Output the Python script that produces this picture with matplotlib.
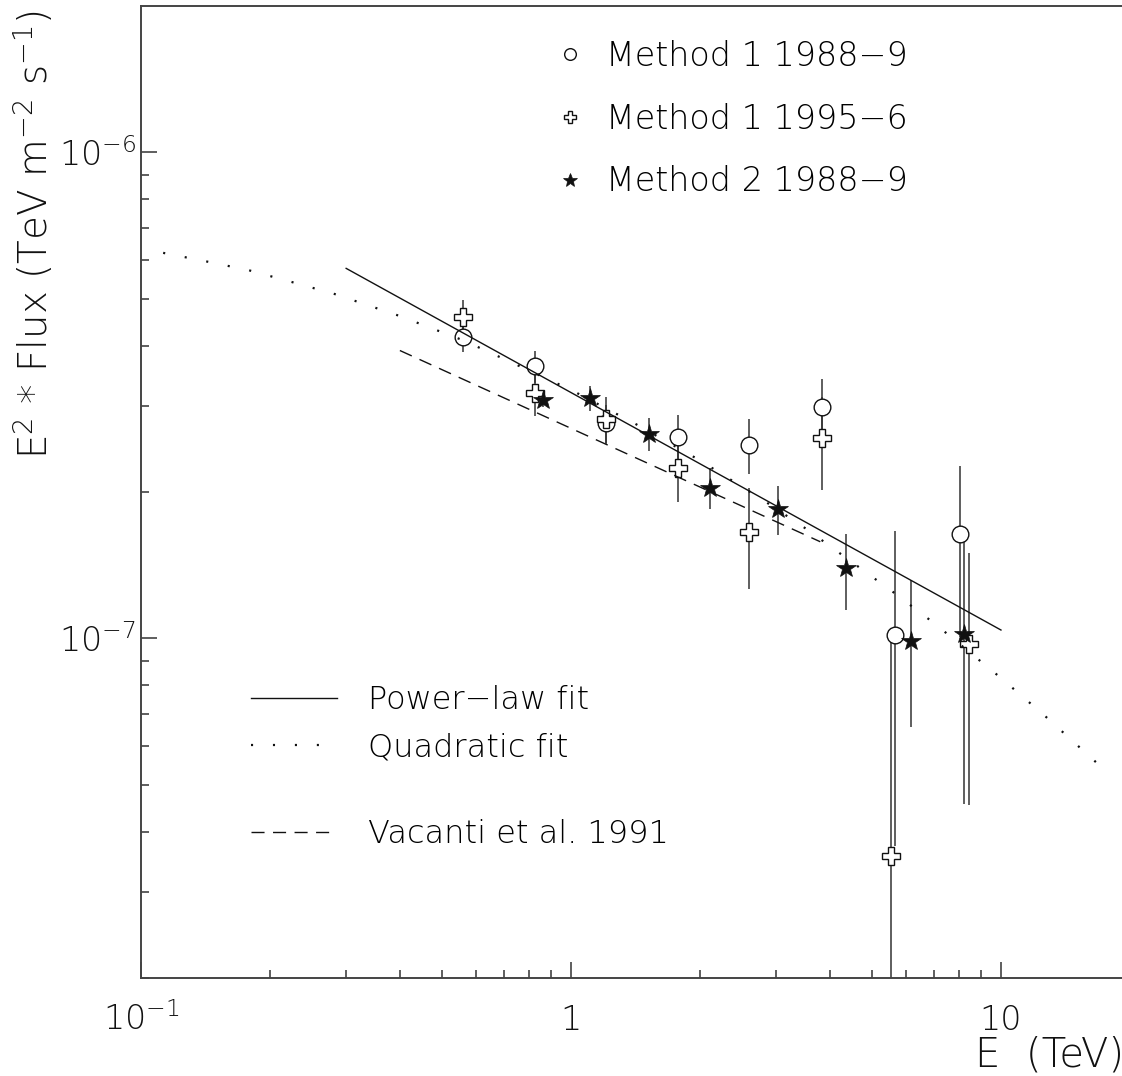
import matplotlib
matplotlib.use('Agg')
import matplotlib.pyplot as plt
from matplotlib.ticker import FixedLocator, FixedFormatter, NullFormatter

plt.rcParams['font.family'] = ['DejaVu Sans']
plt.rcParams['font.weight'] = 'light'
plt.rcParams['axes.labelweight'] = 'light'
plt.rcParams['lines.scale_dashes'] = False

# Method 1, 1988-9 (open circles)
m1a_E = [0.562, 0.826, 1.204, 1.776, 2.598, 3.83, 5.67, 8.04]
m1a_F = [4.17e-7, 3.625e-7, 2.77e-7, 2.60e-7, 2.50e-7, 2.985e-7, 1.018e-7, 1.637e-7]
m1a_err = [0.28e-7, 0.28e-7, 0.25e-7, 0.28e-7, 0.32e-7, 0.435e-7, 0.645e-7, 0.63e-7]

# Method 1, 1995-6 (open crosses)
m1b_E = [0.562, 0.826, 1.204, 1.776, 2.598, 3.83, 5.55, 8.43]
m1b_F = [4.575e-7, 3.196e-7, 2.825e-7, 2.238e-7, 1.652e-7, 2.581e-7, 0.357e-7, 0.975e-7]
m1b_err = [0.40e-7, 0.33e-7, 0.31e-7, 0.33e-7, 0.39e-7, 0.56e-7, 0.626e-7, 0.52e-7]

# Method 2, 1988-9 (stars)
m2_E = [0.859, 1.107, 1.518, 2.105, 3.025, 4.36, 6.18, 8.19]
m2_F = [3.086e-7, 3.121e-7, 2.634e-7, 2.041e-7, 1.845e-7, 1.392e-7, 0.986e-7, 1.022e-7]
m2_err = [0.10e-7, 0.185e-7, 0.205e-7, 0.197e-7, 0.215e-7, 0.246e-7, 0.33e-7, 0.565e-7]

# fits
pl_E = [0.3, 10.0]
pl_F = [5.77e-7, 1.04e-7]

qf_E = [0.1126, 0.141, 0.178, 0.224, 0.282, 0.398, 0.5627, 0.706, 1.0, 1.414,
        2.0, 2.81, 3.54, 5.62, 7.06, 9.96, 12.57, 17.7]
qf_F = [6.21e-7, 5.97e-7, 5.72e-7, 5.41e-7, 5.11e-7, 4.61e-7, 4.10e-7, 3.74e-7,
        3.245e-7, 2.76e-7, 2.32e-7, 1.92e-7, 1.675e-7, 1.244e-7, 1.067e-7,
        8.31e-8, 6.96e-8, 5.29e-8]

va_E = [0.4, 3.8]
va_F = [3.91e-7, 1.58e-7]

ink = '#111111'
W, H = 1122, 1076

fig = plt.figure(figsize=(W / 100, H / 100), dpi=100)
ax = fig.add_axes([141 / W, 98 / H, (1130.4 - 141) / W, 972 / H])
ax.set_xscale('log')
ax.set_yscale('log')
ax.set_xlim(0.1, 20)
ax.set_ylim(2e-8, 2e-6)

# error bars first, markers on top
for E, F, err in [(m1a_E, m1a_F, m1a_err), (m1b_E, m1b_F, m1b_err), (m2_E, m2_F, m2_err)]:
    ax.errorbar(E, F, yerr=err, fmt='none', ecolor='#333333', elinewidth=1.1, capsize=0, zorder=1)

h1, = ax.plot(m1a_E, m1a_F, 'o', ms=12, mfc='white', mec=ink, mew=1.0, zorder=2)
h2, = ax.plot(m1b_E, m1b_F, 'P', ms=12.5, mfc='white', mec=ink, mew=1.0, zorder=2)
h3, = ax.plot(m2_E, m2_F, '*', ms=15, mfc=ink, mec=ink, mew=0.5, zorder=2)

l1, = ax.plot(pl_E, pl_F, '-', color=ink, lw=1.0, zorder=3)
l2, = ax.plot(qf_E, qf_F, color=ink, lw=1.6, linestyle=(0, (1.5, 14.3)), zorder=3)
l3, = ax.plot(va_E, va_F, color=ink, lw=1.0, linestyle=(0, (9.4, 6.1)), zorder=3)

# axes / ticks
ax.xaxis.set_major_locator(FixedLocator([0.1, 1, 10]))
ax.xaxis.set_major_formatter(FixedFormatter([r'$\mathregular{10^{-1}}$', '1', '10']))
ax.xaxis.set_minor_locator(FixedLocator([0.2, 0.3, 0.4, 0.5, 0.6, 0.7, 0.8, 0.9,
                                         2, 3, 4, 5, 6, 7, 8, 9]))
ax.xaxis.set_minor_formatter(NullFormatter())
ax.yaxis.set_major_locator(FixedLocator([1e-7, 1e-6]))
ax.yaxis.set_major_formatter(FixedFormatter([r'$\mathregular{10^{-7}}$', r'$\mathregular{10^{-6}}$']))
ax.yaxis.set_minor_locator(FixedLocator([k * 1e-8 for k in range(2, 10)] +
                                        [k * 1e-7 for k in range(2, 10)]))
ax.yaxis.set_minor_formatter(NullFormatter())

ax.tick_params(which='both', direction='in', top=False, right=False,
               color='#333333', width=1.1, labelsize=24, labelcolor=ink)
ax.tick_params(which='major', length=11.5)
ax.tick_params(which='minor', length=5.8)
ax.tick_params(axis='x', pad=37.4)
ax.tick_params(axis='y', pad=3.6)
plt.setp(ax.get_xticklabels(), va='baseline')

for s in ax.spines.values():
    s.set_color('#444444')
    s.set_linewidth(1.4)

ax.set_xlabel('E  (TeV)', fontsize=29, color=ink, fontweight='light', ha='right', va='baseline')
ax.xaxis.set_label_coords((1124 - 141) / 989.4, (978 - 1067) / 972)
ax.set_ylabel(r'E$^{\mathregular{2}}$ * Flux (TeV m$^{\mathregular{-2}}$ s$^{\mathregular{-1}}$)',
              fontsize=28, color=ink, fontweight='light', rotation=90, ha='right',
              va='baseline', rotation_mode='anchor')
ax.yaxis.set_label_coords((48 - 141) / 989.4, 1 - 4 / 972)

# legends
leg1 = ax.legend([h1, h2, h3], ['Method 1 1988\u22129', 'Method 1 1995\u22126', 'Method 2 1988\u22129'],
                 loc='upper left', bbox_to_anchor=(554 / W, 1 - 40 / H), bbox_transform=fig.transFigure,
                 frameon=False, fontsize=24, handlelength=0.95, handletextpad=0.6,
                 labelspacing=0.89, borderpad=0, borderaxespad=0, markerscale=0.7, numpoints=1)
ax.add_artist(leg1)
leg2 = ax.legend([l1, l2], ['Power\u2212law fit', 'Quadratic fit'],
                 loc='upper left', bbox_to_anchor=(251 / W, 1 - 685 / H), bbox_transform=fig.transFigure,
                 frameon=False, fontsize=23, handlelength=2.7, handletextpad=0.95,
                 labelspacing=0.54, borderpad=0, borderaxespad=0)
ax.add_artist(leg2)
ax.legend([l3], ['Vacanti et al. 1991'],
          loc='upper left', bbox_to_anchor=(251 / W, 1 - 819 / H), bbox_transform=fig.transFigure,
          frameon=False, fontsize=23, handlelength=2.7, handletextpad=0.95,
          borderpad=0, borderaxespad=0)

fig.savefig('out.png', dpi=100, facecolor='white')
